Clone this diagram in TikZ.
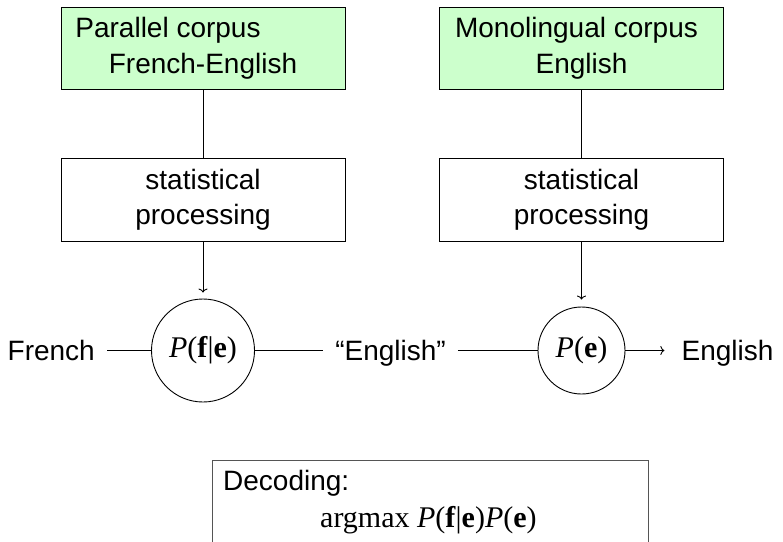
\documentclass[tikz,border=0pt]{standalone}
\usepackage{fontspec}
\usetikzlibrary{arrows.meta}
\setmainfont{Liberation Sans}
\newfontfamily\tms{Liberation Serif}
\definecolor{corpusgreen}{HTML}{CCFFCC}
\definecolor{framegray}{HTML}{555555}
% serif formula pieces
\newcommand\serifmath[1]{{\fontsize{30}{36}\selectfont\tms #1}}
\newcommand\probfe{\serifmath{\itshape P\upshape(\textbf{f}|\textbf{e})}}
\newcommand\probe{\serifmath{\itshape P\upshape(\textbf{e})}}
\begin{document}
\begin{tikzpicture}[x=1pt,y=-1pt,
  font=\fontsize{28}{36}\selectfont,
  link/.style={line width=0.9pt},
  feed/.style={line width=0.9pt, -{To[length=4pt,width=9pt]}},
  corpus/.style={draw, line width=0.9pt, fill=corpusgreen, minimum width=284pt,
    minimum height=82pt, align=center, inner sep=0pt},
  procbox/.style={draw, line width=0.9pt, minimum width=284pt, minimum height=83pt,
    align=center, inner sep=0pt, font=\fontsize{28}{35}\selectfont},
  model/.style={draw, line width=0.9pt, circle, inner sep=0pt},
  lbl/.style={inner xsep=12pt, inner ysep=0pt, text height=20pt, text depth=0pt},
  decbox/.style={draw=framegray, line width=1.2pt, minimum width=436pt,
    minimum height=110pt, anchor=north west, inner sep=0pt},
  dectext/.style={inner sep=0pt, anchor=base west}]
\useasboundingbox (0,0) rectangle (783,541);
\clip (0,0) rectangle (783,541);

% corpora
\node[corpus] (par) at (203,48) {Parallel corpus\hspace*{70pt}\\French-English};
\node[corpus] (mono) at (581.5,48) {Monolingual corpus\hspace*{10pt}\\English};

% statistical processing
\node[procbox] (sp1) at (203,199.5) {statistical\\processing};
\node[procbox] (sp2) at (581.5,199.5) {statistical\\processing};

% models
\node[model, minimum size=103pt] (tm) at (203,350.5) {\probfe};
\node[model, minimum size=87pt] (lm) at (581.5,350.5) {\probe};

% channel labels
\node[lbl, anchor=east] (fr) at (107,350.5) {French};
\node[lbl] (mid) at (390.5,350.5) {“English”};
\node[lbl] (en) at (727.5,350.5) {English};

% connectors
\draw[link] (par) -- (sp1);
\draw[link] (mono) -- (sp2);
\draw[feed, shorten >=6pt] (sp1) -- (tm);
\draw[feed, shorten >=7pt] (sp2) -- (lm);
\draw[link] (fr) -- (tm);
\draw[link] (tm) -- (mid);
\draw[link] (mid) -- (lm);
\draw[feed, shorten >=5pt] (lm) -- (en);

% decoding rule
\node[decbox] (dec) at (212,460) {};
\node[dectext] (dechead) at (223,490) {Decoding:};
\node[dectext] (decrule) at (320,527) {\serifmath{argmax \itshape P\upshape(\textbf{f}|\textbf{e})\itshape P\upshape(\textbf{e})}};
\end{tikzpicture}
\end{document}
